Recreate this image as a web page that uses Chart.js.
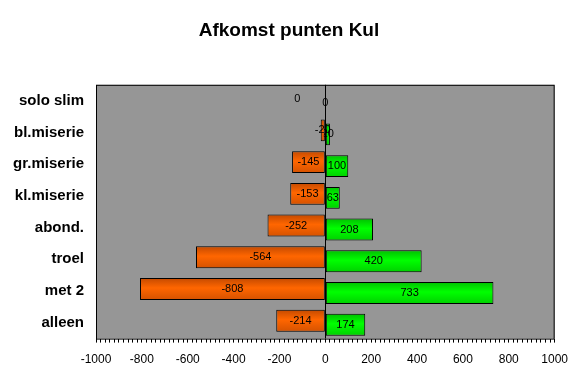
<!DOCTYPE html><html lang="nl"><head><meta charset="utf-8">
<title>Afkomst punten Kul</title>
<script src="https://cdn.jsdelivr.net/npm/chart.js@4.4.0/dist/chart.umd.min.js"></script>
<style>
  html, body { margin: 0; padding: 0; background: #fff; }
  #wrap { width: 578px; height: 377px; }
</style>
</head>
<body>
<div id="wrap"><canvas id="chart" width="578" height="377"></canvas></div>
<script>
// categorieen en waarden
const labels = ['solo slim', 'bl.miserie', 'gr.miserie', 'kl.miserie', 'abond.', 'troel', 'met 2', 'alleen'];
const negatief = [0, -20, -145, -153, -252, -564, -808, -214];
const positief = [0, 20, 100, 63, 208, 420, 733, 174];
const xTicks = [-1000, -800, -600, -400, -200, 0, 200, 400, 600, 800, 1000];

// grijze achtergrond van het plotvlak + zwarte rand
const plotBg = {
  id: 'plotBg',
  beforeDraw(chart) {
    const { ctx, chartArea: a } = chart;
    ctx.save();
    ctx.fillStyle = '#969696';
    ctx.fillRect(a.left, a.top, a.right - a.left, a.bottom - a.top);
    ctx.restore();
  },
  afterDraw(chart) {
    const { ctx, chartArea: a } = chart;
    ctx.save();
    ctx.strokeStyle = '#000';
    ctx.lineWidth = 1;
    ctx.strokeRect(a.left + 0.5, a.top + 0.5, a.right - a.left - 1, a.bottom - a.top);
    // nullijn
    const x0 = Math.round(chart.scales.x.getPixelForValue(0)) + 0.5;
    ctx.beginPath();
    ctx.moveTo(x0, a.top);
    ctx.lineTo(x0, a.bottom);
    ctx.stroke();
    ctx.restore();
  }
};

// kleurverloop per balk, kleine verschuiving tussen de twee reeksen
const barStyle = {
  id: 'barStyle',
  beforeDatasetDraw(chart, args) {
    const ctx = chart.ctx;
    const shift = args.index === 0 ? -2 : 2;
    ctx.save();
    ctx.translate(0, shift);
    const meta = args.meta;
    meta.data.forEach((el) => {
      const top = el.y - el.height / 2, bot = el.y + el.height / 2;
      if (!isFinite(top)) return;
      const g = ctx.createLinearGradient(0, top, 0, bot);
      if (args.index === 0) {
        g.addColorStop(0, '#c44a00');
        g.addColorStop(0.45, '#ff6600');
        g.addColorStop(1, '#d55200');
      } else {
        g.addColorStop(0, '#00c000');
        g.addColorStop(0.45, '#00ff00');
        g.addColorStop(1, '#00d000');
      }
      el.options = Object.assign({}, el.options, { backgroundColor: g });
    });
  },
  afterDatasetDraw(chart, args) {
    const ctx = chart.ctx;
    args.meta.data.forEach((el, i) => {
      const v = chart.data.datasets[args.index].data[i];
      let cx = (el.x + el.base) / 2;
      if (v === 0 && args.index === 0) cx -= 28;
      ctx.fillStyle = '#000';
      ctx.font = '11px Arial, "Liberation Sans", sans-serif';
      ctx.textAlign = 'center';
      ctx.textBaseline = 'middle';
      ctx.fillText(String(v), cx, el.y);
    });
    ctx.restore();
  }
};

new Chart(document.getElementById('chart'), {
  type: 'bar',
  data: {
    labels: labels,
    datasets: [
      { data: negatief, borderColor: '#000', borderWidth: 1, borderSkipped: false, backgroundColor: '#ff6600' },
      { data: positief, borderColor: '#000', borderWidth: 1, borderSkipped: false, backgroundColor: '#00ff00' }
    ]
  },
  options: {
    indexAxis: 'y',
    responsive: false,
    animation: false,
    layout: { padding: { left: 0, right: 0, top: 0, bottom: 0 } },
    datasets: { bar: { grouped: false, categoryPercentage: 1, barPercentage: 0.69 } },
    plugins: {
      legend: { display: false },
      tooltip: { enabled: false },
      title: {
        display: true,
        text: 'Afkomst punten Kul',
        color: '#000',
        font: { family: 'Arial, "Liberation Sans", sans-serif', size: 19, weight: 'bold' },
        padding: { top: 19, bottom: 43 }
      }
    },
    scales: {
      x: {
        min: -1000, max: 1000,
        afterBuildTicks(scale) {
          const t = [];
          for (let v = -1000; v <= 1000; v += 20) t.push({ value: v });
          scale.ticks = t;
        },
        grid: { display: true, drawOnChartArea: false, color: '#000', tickLength: 4, tickColor: '#000' },
        border: { display: false },
        ticks: {
          autoSkip: false, maxRotation: 0, color: '#000', padding: 10,
          font: { family: 'Arial, "Liberation Sans", sans-serif', size: 12 },
          callback: (v) => xTicks.includes(v) ? String(v) : ''
        }
      },
      y: {
        afterFit(scale) { scale.width = 96; },
        grid: { display: false },
        border: { display: false },
        ticks: {
          color: '#000', padding: 4,
          font: { family: 'Arial, "Liberation Sans", sans-serif', size: 15, weight: 'bold' }
        }
      },
      // lege ruimte rechts van het plotvlak
      yRight: {
        type: 'category',
        position: 'right',
        labels: labels,
        afterFit(scale) { scale.width = 22; },
        grid: { display: false },
        border: { display: false },
        ticks: { display: false }
      }
    }
  },
  plugins: [plotBg, barStyle]
});
</script>
</body>
</html>
